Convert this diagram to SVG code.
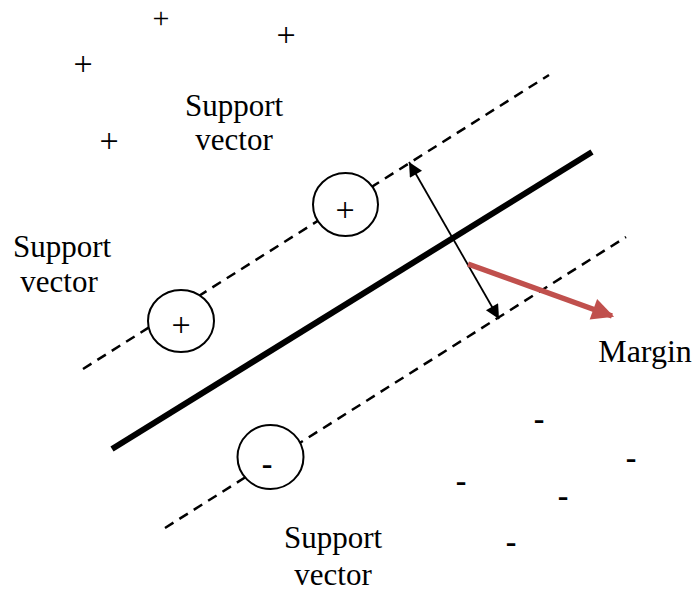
<svg xmlns="http://www.w3.org/2000/svg" width="693" height="592" viewBox="0 0 693 592">
<style>
text{font-family:"Liberation Serif","Times New Roman",serif;fill:#000}
.lbl{font-size:31px;text-anchor:middle}
.sym{font-size:34px;text-anchor:middle}
.neg{font-size:32px;text-anchor:middle;font-weight:bold}
.dash{stroke:#000;stroke-width:2.5;stroke-dasharray:10 7;fill:none}
.sv{fill:#fff;stroke:#000;stroke-width:2}
</style>
<defs>
<marker id="rh" viewBox="0 0 10 10" refX="9" refY="5" markerWidth="5" markerHeight="4" orient="auto">
<path d="M0,0 L10,5 L0,10 z" fill="#c0504d"/>
</marker>
<marker id="bh" viewBox="0 0 10 10" refX="10" refY="5" markerWidth="16" markerHeight="14" markerUnits="userSpaceOnUse" orient="auto-start-reverse">
<path d="M0,0 L10,5 L0,10 z" fill="#000"/>
</marker>
</defs>
<g id="connectors">
<line class="dash" x1="83" y1="369" x2="549" y2="75"/>
<line class="dash" x1="165" y1="528" x2="626" y2="237"/>
<line x1="112" y1="449" x2="592" y2="152" stroke="#000" stroke-width="6"/>
<line x1="409" y1="162" x2="499" y2="319" stroke="#000" stroke-width="1.8" marker-start="url(#bh)" marker-end="url(#bh)"/>
<line x1="468" y1="264" x2="612" y2="316" stroke="#c0504d" stroke-width="5.5" marker-end="url(#rh)"/>
</g>
<g id="sv-plus-1"><ellipse class="sv" cx="181" cy="321" rx="33" ry="31"/><text class="sym" x="181" y="336">+</text></g>
<g id="sv-plus-2"><ellipse class="sv" cx="345.5" cy="204.5" rx="32.5" ry="31.5"/><text class="sym" x="345" y="221">+</text></g>
<g id="sv-minus"><ellipse class="sv" cx="270.5" cy="457" rx="33" ry="32"/><text class="neg" x="267" y="474">-</text></g>
<g id="plus-points">
<text class="sym" x="161" y="27.5" style="font-size:30px">+</text>
<text class="sym" x="286" y="46">+</text>
<text class="sym" x="83" y="75">+</text>
<text class="sym" x="109" y="152">+</text>
</g>
<g id="minus-points">
<text class="neg" x="539" y="429">-</text>
<text class="neg" x="631" y="468">-</text>
<text class="neg" x="461" y="491">-</text>
<text class="neg" x="563" y="506">-</text>
<text class="neg" x="511" y="552">-</text>
</g>
<g id="label-top"><text class="lbl" x="234" y="116">Support</text><text class="lbl" x="234" y="150">vector</text></g>
<g id="label-left"><text class="lbl" x="62" y="257">Support</text><text class="lbl" x="59" y="292">vector</text></g>
<g id="label-bottom"><text class="lbl" x="333" y="548">Support</text><text class="lbl" x="333" y="585">vector</text></g>
<g id="label-margin"><text class="lbl" x="645" y="362" style="font-size:32px">Margin</text></g>
</svg>
